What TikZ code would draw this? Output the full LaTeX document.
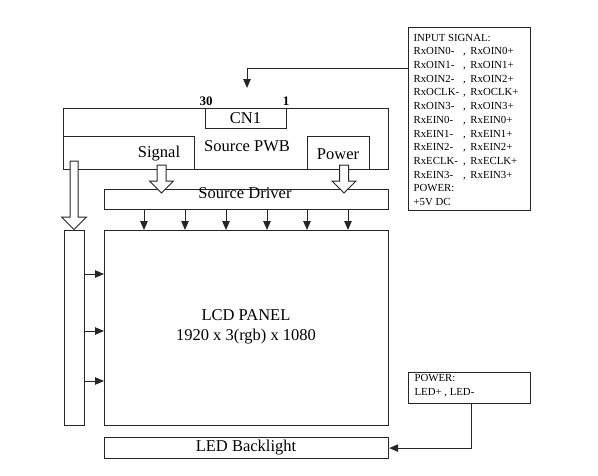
\documentclass[tikz,border=0pt]{standalone}
\usepackage{fontspec}
\setmainfont{Liberation Serif}
\usetikzlibrary{arrows.meta}
\begin{document}
\begin{tikzpicture}[x=1pt,y=-1pt,
  line width=1.2pt, draw=black!85,
  blk/.style={draw, rectangle, anchor=north west, inner sep=0pt},
  lbl/.style={inner sep=0pt, font=\fontsize{16.5}{18}\selectfont},
  small/.style={inner sep=0pt, anchor=north west, align=left, font=\fontsize{10.8}{13.7}\selectfont},
  arr/.style={-{Triangle[length=9pt,width=7.5pt]}, line width=1pt},
  hollow/.style={draw, fill=white, line width=1pt, line join=miter}]
\useasboundingbox (0,0) rectangle (598,475);

% Source PWB and sub-blocks
\node[blk, minimum width=325, minimum height=61] (pwb) at (63,108) {};
\node[blk, minimum width=81, minimum height=20] (cn1) at (205,108) {};
\node[lbl] (cn1t) at (245.5,118) {CN1};
\node[inner sep=0pt, font=\bfseries\fontsize{13}{14}\selectfont] (p30) at (206,101) {30};
\node[inner sep=0pt, font=\bfseries\fontsize{13}{14}\selectfont] (p1) at (286,101) {1};
\node[blk, minimum width=131, minimum height=33] (sig) at (63,136) {};
\node[lbl] (sigt) at (159,154) {Signal};
\node[lbl] (pwbt) at (247,146) {Source PWB};
\node[blk, minimum width=62, minimum height=33] (pow) at (307,136) {};
\node[lbl] (powt) at (338,154) {Power};

% Source driver
\node[blk, minimum width=284, minimum height=20] (drv) at (104,189) {};
\node[lbl] (drvt) at (245,193) {Source Driver};

% LCD panel
\node[blk, minimum width=284, minimum height=195] (lcd) at (104,230) {};
\node[lbl, align=center] (lcdt) at (246,327) {LCD PANEL\\[2pt]1920 x 3(rgb) x 1080};

% Gate bar
\node[blk, minimum width=20, minimum height=195] (bar) at (64,230) {};

% LED backlight
\node[blk, minimum width=284, minimum height=21] (bl) at (104,437) {};
\node[lbl] (blt) at (246,447.5) {LED Backlight};

% Input signal box
\node[blk, minimum width=122, minimum height=183] (inbox) at (408,27) {};
\node[small] (intext) at (413,31) {%
\begin{tabular}{@{}l@{\hspace{4pt},\hspace{4.5pt}}l@{}}
\multicolumn{2}{@{}l@{}}{INPUT SIGNAL:}\\
RxOIN0- & RxOIN0+\\
RxOIN1- & RxOIN1+\\
RxOIN2- & RxOIN2+\\
RxOCLK- & RxOCLK+\\
RxOIN3- & RxOIN3+\\
RxEIN0- & RxEIN0+\\
RxEIN1- & RxEIN1+\\
RxEIN2- & RxEIN2+\\
RxECLK- & RxECLK+\\
RxEIN3- & RxEIN3+\\
\multicolumn{2}{@{}l@{}}{POWER:}\\
\multicolumn{2}{@{}l@{}}{+5V DC}
\end{tabular}};

% LED power box
\node[blk, minimum width=122, minimum height=31] (ledp) at (408,372) {};
\node[small] (ledpt) at (414,374) {POWER:\\LED+ , LED-};

% Input arrow
\coordinate (cntip) at (247,88);
\draw[arr] (inbox.north west) ++(0,41) -| (cntip);

% Source driver to LCD
\foreach \x in {144,185,226,267,307,348}
  \draw[arr] (drv.south -| \x,0) -- (lcd.north -| \x,0);

% Gate bar to LCD
\foreach \y in {274,331,381}
  \draw[arr] (bar.east |- 0,\y) -- (lcd.west |- 0,\y);

% LED power to backlight
\draw[arr] (ledp.south -| 471,0) |- (bl.east);

% Hollow arrows
\newcommand\hollowarr[6]{% cx, shaft half, top, headstart, head half, tip
  \draw[hollow] (#1-#2,#3) -- (#1+#2,#3) -- (#1+#2,#4) -- (#1+#5,#4) -- (#1,#6)
    -- (#1-#5,#4) -- (#1-#2,#4) -- cycle;}
\hollowarr{161.5}{4.5}{165}{181}{12}{193}
\hollowarr{344}{4.5}{165}{181}{12}{193}
\hollowarr{74}{4}{161}{217}{12.5}{229.5}
\end{tikzpicture}
\end{document}
